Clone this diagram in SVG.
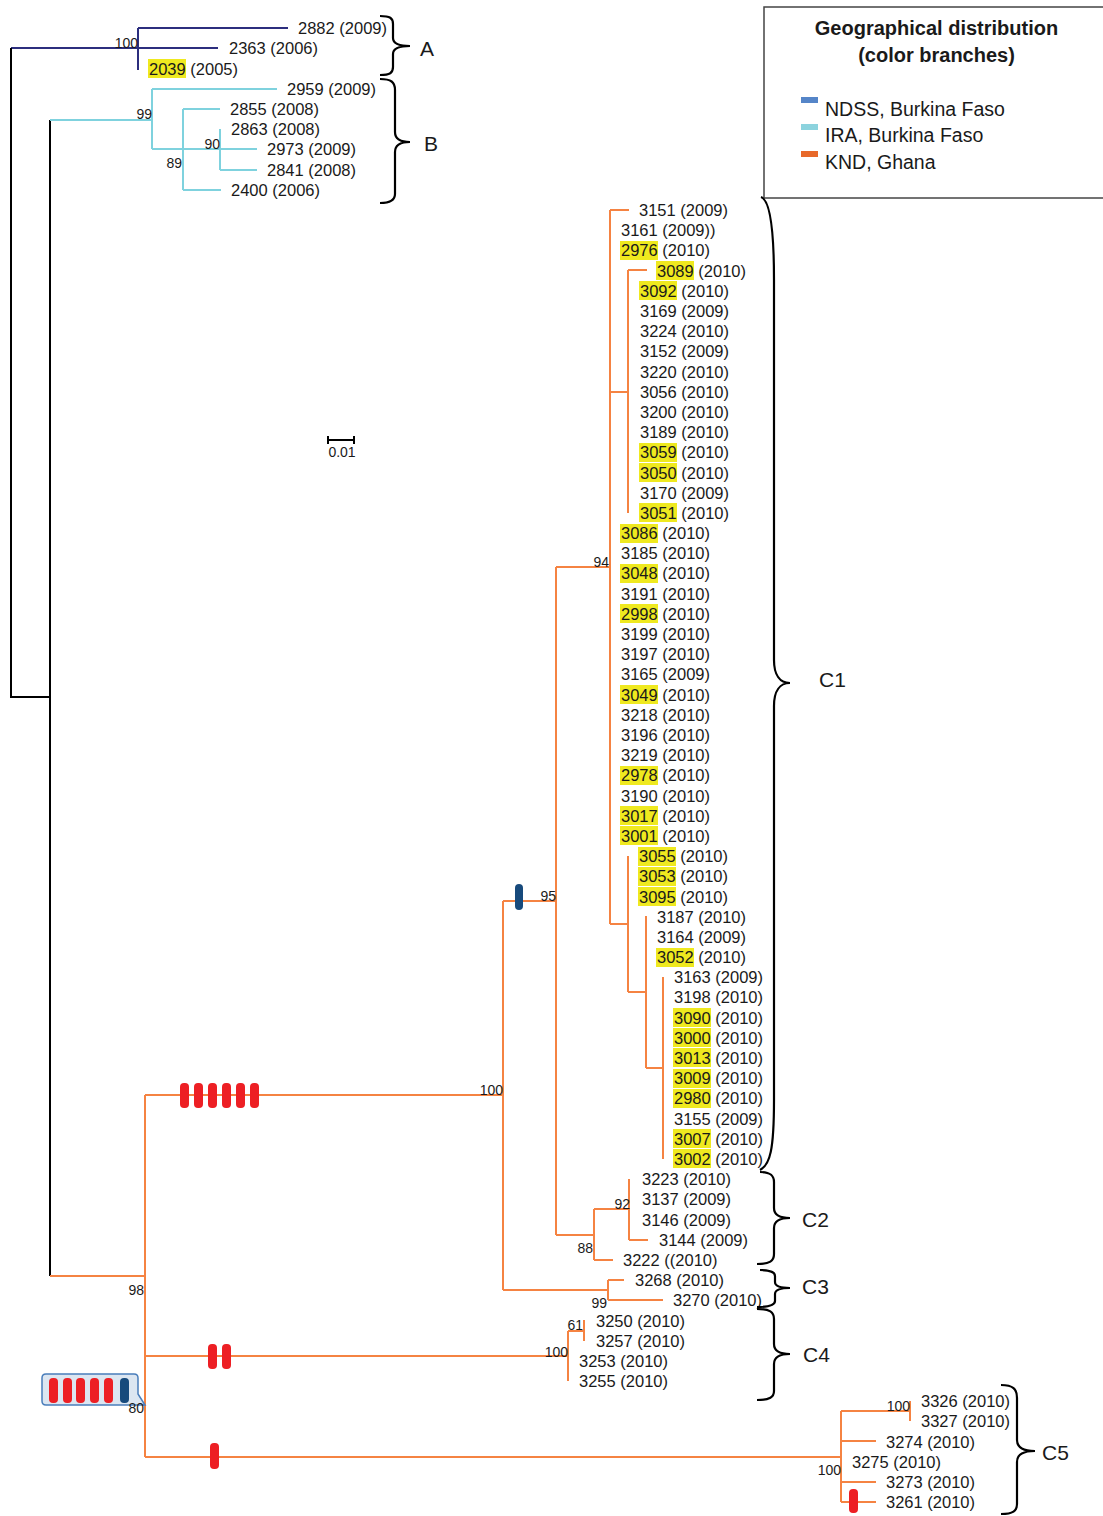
<svg xmlns="http://www.w3.org/2000/svg" width="1103" height="1516" viewBox="0 0 1103 1516">
<style>
text{font-family:"Liberation Sans",Arial,sans-serif;fill:#1a1a1a}
.lf{font-size:16.5px}
.bs{font-size:14px;text-anchor:end}
.cl{font-size:21px}
.hl{fill:#efe91f}
.o{stroke:#f58342;stroke-width:2;fill:none}
.c{stroke:#7fd2de;stroke-width:2;fill:none}
.n{stroke:#2c2e7e;stroke-width:2;fill:none}
.k{stroke:#000;stroke-width:2;fill:none}
.br{stroke:#000;stroke-width:2.2;fill:none}
.rm{fill:#ed1f24}
.bm{fill:#174a7c}
</style>
<rect width="1103" height="1516" fill="#fff"/>

<g id="legend">
<rect x="764" y="7" width="345" height="191" fill="#fff" stroke="#444" stroke-width="1.5"/>
<text x="936.5" y="35" font-size="20" font-weight="bold" text-anchor="middle">Geographical distribution</text>
<text x="936.5" y="62" font-size="20" font-weight="bold" text-anchor="middle">(color branches)</text>
<rect x="801" y="97" width="17" height="6" fill="#5585c8"/>
<rect x="801" y="124" width="17" height="6" fill="#8cd3de"/>
<rect x="801" y="151" width="17" height="6" fill="#e8692a"/>
<text x="825" y="116" font-size="19.5">NDSS, Burkina Faso</text>
<text x="825" y="142" font-size="19.5">IRA, Burkina Faso</text>
<text x="825" y="169" font-size="19.5">KND, Ghana</text>
</g>

<g id="scale">
<path class="k" d="M328,436V444M328,440H354M354,436V444"/>
<text x="342" y="457" font-size="14" text-anchor="middle">0.01</text>
</g>

<g id="connectors">
<path class="n" d="M11,48H218M138,28V70M138,28H288"/>
<path class="k" d="M11,48V697H50M50,120V1276"/>
<path class="c" d="M50,120H152M152,89V149M152,89H277M152,149H257M183,109V190M183,109H220M183,190H221M220,129V170M220,170H257"/>
<path class="o" d="M50,1276H145M145,1095V1457M145,1095H503M145,1356H568M145,1457H841
M503,901V1290M503,901H556M503,1290H608
M556,567V1235M556,567H610M556,1235H594
M610,210V924M610,210H629M610,392H628M628,270V513M628,270H647
M610,924H628M628,856V992M628,992H646M646,916V1068M646,1068H663M663,977V1159
M594,1209V1260M594,1209H629M629,1179V1240M629,1240H648M594,1260H613
M608,1280V1300M608,1280H624M608,1300H663
M568,1331V1381M568,1331H584M584,1320V1341
M841,1411V1502M841,1411H910M910,1401V1421M841,1441H876M841,1482H876M841,1502H876"/>
</g>

<g id="markers">
<rect class="rm" x="180" y="1083" width="9" height="25" rx="4"/>
<rect class="rm" x="194" y="1083" width="9" height="25" rx="4"/>
<rect class="rm" x="208" y="1083" width="9" height="25" rx="4"/>
<rect class="rm" x="222" y="1083" width="9" height="25" rx="4"/>
<rect class="rm" x="236" y="1083" width="9" height="25" rx="4"/>
<rect class="rm" x="250" y="1083" width="9" height="25" rx="4"/>
<rect class="bm" x="515" y="884" width="8" height="26" rx="4"/>
<rect class="rm" x="208" y="1344" width="9" height="25" rx="4"/>
<rect class="rm" x="222" y="1344" width="9" height="25" rx="4"/>
<rect class="rm" x="210" y="1443" width="9" height="26" rx="4"/>
<rect class="rm" x="849" y="1489" width="9" height="24" rx="4"/>
</g>

<g id="callout">
<path d="M46,1374H134Q138,1374 138,1378V1394L145,1405L134,1405H46Q42,1405 42,1401V1378Q42,1374 46,1374Z" fill="#dce6f1" stroke="#4a7ebb" stroke-width="1.5"/>
<rect class="rm" x="49" y="1378" width="9" height="25" rx="4"/>
<rect class="rm" x="63" y="1378" width="9" height="25" rx="4"/>
<rect class="rm" x="76" y="1378" width="9" height="25" rx="4"/>
<rect class="rm" x="90" y="1378" width="9" height="25" rx="4"/>
<rect class="rm" x="104" y="1378" width="9" height="25" rx="4"/>
<rect class="bm" x="120" y="1378" width="9" height="25" rx="4"/>
</g>

<g id="bootstrap">
<text class="bs" x="138" y="48">100</text>
<text class="bs" x="152" y="119">99</text>
<text class="bs" x="220" y="149">90</text>
<text class="bs" x="182" y="168">89</text>
<text class="bs" x="609" y="567">94</text>
<text class="bs" x="556" y="901">95</text>
<text class="bs" x="503" y="1095">100</text>
<text class="bs" x="630" y="1209">92</text>
<text class="bs" x="593" y="1253">88</text>
<text class="bs" x="607" y="1308">99</text>
<text class="bs" x="144" y="1295">98</text>
<text class="bs" x="144" y="1413">80</text>
<text class="bs" x="583" y="1330">61</text>
<text class="bs" x="568" y="1357">100</text>
<text class="bs" x="910" y="1411">100</text>
<text class="bs" x="841" y="1475">100</text>
</g>

<g id="leaves-AB">
<g id="l2882"><text class="lf" x="298" y="34">2882 (2009)</text></g>
<g id="l2363"><text class="lf" x="229" y="54">2363 (2006)</text></g>
<g id="l2039"><rect class="hl" x="148" y="59" width="38" height="19"/><text class="lf" x="149" y="75">2039 (2005)</text></g>
<g id="l2959"><text class="lf" x="287" y="95">2959 (2009)</text></g>
<g id="l2855"><text class="lf" x="230" y="115">2855 (2008)</text></g>
<g id="l2863"><text class="lf" x="231" y="135">2863 (2008)</text></g>
<g id="l2973"><text class="lf" x="267" y="155">2973 (2009)</text></g>
<g id="l2841"><text class="lf" x="267" y="176">2841 (2008)</text></g>
<g id="l2400"><text class="lf" x="231" y="196">2400 (2006)</text></g>
</g>

<g id="leaves-C1">
<g id="l3151"><text class="lf" x="639" y="216">3151 (2009)</text></g>
<g id="l3161"><text class="lf" x="621" y="236">3161 (2009))</text></g>
<g id="l2976"><rect class="hl" x="620" y="241" width="38" height="19"/><text class="lf" x="621" y="256">2976 (2010)</text></g>
<g id="l3089"><rect class="hl" x="656" y="261" width="38" height="19"/><text class="lf" x="657" y="277">3089 (2010)</text></g>
<g id="l3092"><rect class="hl" x="639" y="281" width="38" height="19"/><text class="lf" x="640" y="297">3092 (2010)</text></g>
<g id="l3169"><text class="lf" x="640" y="317">3169 (2009)</text></g>
<g id="l3224"><text class="lf" x="640" y="337">3224 (2010)</text></g>
<g id="l3152"><text class="lf" x="640" y="357">3152 (2009)</text></g>
<g id="l3220"><text class="lf" x="640" y="378">3220 (2010)</text></g>
<g id="l3056"><text class="lf" x="640" y="398">3056 (2010)</text></g>
<g id="l3200"><text class="lf" x="640" y="418">3200 (2010)</text></g>
<g id="l3189"><text class="lf" x="640" y="438">3189 (2010)</text></g>
<g id="l3059"><rect class="hl" x="639" y="443" width="38" height="19"/><text class="lf" x="640" y="458">3059 (2010)</text></g>
<g id="l3050"><rect class="hl" x="639" y="463" width="38" height="19"/><text class="lf" x="640" y="479">3050 (2010)</text></g>
<g id="l3170"><text class="lf" x="640" y="499">3170 (2009)</text></g>
<g id="l3051"><rect class="hl" x="639" y="503" width="38" height="19"/><text class="lf" x="640" y="519">3051 (2010)</text></g>
<g id="l3086"><rect class="hl" x="620" y="524" width="38" height="19"/><text class="lf" x="621" y="539">3086 (2010)</text></g>
<g id="l3185"><text class="lf" x="621" y="559">3185 (2010)</text></g>
<g id="l3048"><rect class="hl" x="620" y="564" width="38" height="19"/><text class="lf" x="621" y="579">3048 (2010)</text></g>
<g id="l3191"><text class="lf" x="621" y="600">3191 (2010)</text></g>
<g id="l2998"><rect class="hl" x="620" y="604" width="38" height="19"/><text class="lf" x="621" y="620">2998 (2010)</text></g>
<g id="l3199"><text class="lf" x="621" y="640">3199 (2010)</text></g>
<g id="l3197"><text class="lf" x="621" y="660">3197 (2010)</text></g>
<g id="l3165"><text class="lf" x="621" y="680">3165 (2009)</text></g>
<g id="l3049"><rect class="hl" x="620" y="685" width="38" height="19"/><text class="lf" x="621" y="701">3049 (2010)</text></g>
<g id="l3218"><text class="lf" x="621" y="721">3218 (2010)</text></g>
<g id="l3196"><text class="lf" x="621" y="741">3196 (2010)</text></g>
<g id="l3219"><text class="lf" x="621" y="761">3219 (2010)</text></g>
<g id="l2978"><rect class="hl" x="620" y="766" width="38" height="19"/><text class="lf" x="621" y="781">2978 (2010)</text></g>
<g id="l3190"><text class="lf" x="621" y="802">3190 (2010)</text></g>
<g id="l3017"><rect class="hl" x="620" y="806" width="38" height="19"/><text class="lf" x="621" y="822">3017 (2010)</text></g>
<g id="l3001"><rect class="hl" x="620" y="826" width="38" height="19"/><text class="lf" x="621" y="842">3001 (2010)</text></g>
<g id="l3055"><rect class="hl" x="638" y="847" width="38" height="19"/><text class="lf" x="639" y="862">3055 (2010)</text></g>
<g id="l3053"><rect class="hl" x="638" y="867" width="38" height="19"/><text class="lf" x="639" y="882">3053 (2010)</text></g>
<g id="l3095"><rect class="hl" x="638" y="887" width="38" height="19"/><text class="lf" x="639" y="903">3095 (2010)</text></g>
<g id="l3187"><text class="lf" x="657" y="923">3187 (2010)</text></g>
<g id="l3164"><text class="lf" x="657" y="943">3164 (2009)</text></g>
<g id="l3052"><rect class="hl" x="656" y="948" width="38" height="19"/><text class="lf" x="657" y="963">3052 (2010)</text></g>
<g id="l3163"><text class="lf" x="674" y="983">3163 (2009)</text></g>
<g id="l3198"><text class="lf" x="674" y="1003">3198 (2010)</text></g>
<g id="l3090"><rect class="hl" x="673" y="1008" width="38" height="19"/><text class="lf" x="674" y="1024">3090 (2010)</text></g>
<g id="l3000"><rect class="hl" x="673" y="1028" width="38" height="19"/><text class="lf" x="674" y="1044">3000 (2010)</text></g>
<g id="l3013"><rect class="hl" x="673" y="1048" width="38" height="19"/><text class="lf" x="674" y="1064">3013 (2010)</text></g>
<g id="l3009"><rect class="hl" x="673" y="1069" width="38" height="19"/><text class="lf" x="674" y="1084">3009 (2010)</text></g>
<g id="l2980"><rect class="hl" x="673" y="1089" width="38" height="19"/><text class="lf" x="674" y="1104">2980 (2010)</text></g>
<g id="l3155"><text class="lf" x="674" y="1125">3155 (2009)</text></g>
<g id="l3007"><rect class="hl" x="673" y="1129" width="38" height="19"/><text class="lf" x="674" y="1145">3007 (2010)</text></g>
<g id="l3002"><rect class="hl" x="673" y="1149" width="38" height="19"/><text class="lf" x="674" y="1165">3002 (2010)</text></g>
</g>

<g id="leaves-C2-C5">
<g id="l3223"><text class="lf" x="642" y="1185">3223 (2010)</text></g>
<g id="l3137"><text class="lf" x="642" y="1205">3137 (2009)</text></g>
<g id="l3146"><text class="lf" x="642" y="1226">3146 (2009)</text></g>
<g id="l3144"><text class="lf" x="659" y="1246">3144 (2009)</text></g>
<g id="l3222"><text class="lf" x="623" y="1266">3222 ((2010)</text></g>
<g id="l3268"><text class="lf" x="635" y="1286">3268 (2010)</text></g>
<g id="l3270"><text class="lf" x="673" y="1306">3270 (2010)</text></g>
<g id="l3250"><text class="lf" x="596" y="1327">3250 (2010)</text></g>
<g id="l3257"><text class="lf" x="596" y="1347">3257 (2010)</text></g>
<g id="l3253"><text class="lf" x="579" y="1367">3253 (2010)</text></g>
<g id="l3255"><text class="lf" x="579" y="1387">3255 (2010)</text></g>
<g id="l3326"><text class="lf" x="921" y="1407">3326 (2010)</text></g>
<g id="l3327"><text class="lf" x="921" y="1427">3327 (2010)</text></g>
<g id="l3274"><text class="lf" x="886" y="1448">3274 (2010)</text></g>
<g id="l3275"><text class="lf" x="852" y="1468">3275 (2010)</text></g>
<g id="l3273"><text class="lf" x="886" y="1488">3273 (2010)</text></g>
<g id="l3261"><text class="lf" x="886" y="1508">3261 (2010)</text></g>
</g>

<g id="clades">
<path class="br" d="M380,16C390,16 393,18 393,24L393,38C393,43 398,46 410,46C398,46 393,49 393,54L393,67C393,73 390,75 380,75"/>
<text class="cl" x="420" y="56">A</text>
<path class="br" d="M380,79C391,79 395,82 395,90L395,132C395,138 399,142 410,142C399,142 395,146 395,152L395,194C395,200 391,203 380,203"/>
<text class="cl" x="424" y="151">B</text>
<path class="br" d="M761,197C770,200 774,230 774,280L774,660C774,675 780,683 790,683C780,683 774,691 774,706L774,1100C774,1150 770,1165 760,1170"/>
<text class="cl" x="819" y="687">C1</text>
<path class="br" d="M760,1172C770,1172 774,1175 774,1182L774,1208C774,1214 778,1218 790,1218C778,1218 774,1222 774,1228L774,1254C774,1261 770,1264 757,1264"/>
<text class="cl" x="802" y="1227">C2</text>
<path class="br" d="M760,1270C771,1270 775,1272 775,1276L775,1282C775,1286 779,1288 790,1288C779,1288 775,1290 775,1294L775,1301C775,1305 770,1307 757,1307"/>
<text class="cl" x="802" y="1294">C3</text>
<path class="br" d="M757,1309C770,1309 774,1312 774,1319L774,1344C774,1350 778,1354 790,1354C778,1354 774,1358 774,1364L774,1391C774,1397 770,1400 757,1400"/>
<text class="cl" x="803" y="1362">C4</text>
<path class="br" d="M1001,1385C1013,1385 1017,1389 1017,1398L1017,1440C1017,1447 1022,1451 1035,1451C1022,1451 1017,1455 1017,1462L1017,1504C1017,1511 1013,1514 1001,1514"/>
<text class="cl" x="1042" y="1460">C5</text>
</g>
</svg>
